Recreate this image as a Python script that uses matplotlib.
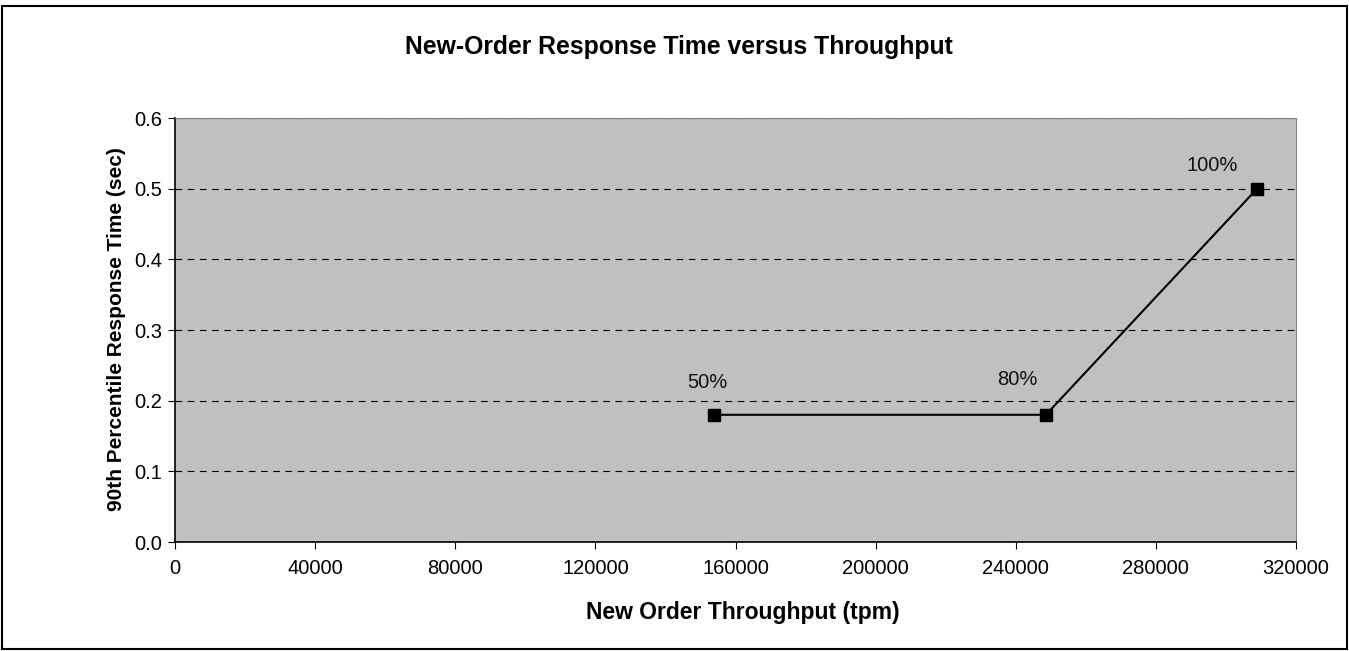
import matplotlib.pyplot as plt
from matplotlib.patches import Rectangle

plt.rcParams['font.family'] = ['Liberation Sans', 'DejaVu Sans']

# Daten
throughput = [153900, 248600, 308900]
response_time = [0.18, 0.18, 0.50]
load_labels = ["50%", "80%", "100%"]
label_offsets = [(-7, 32), (-29, 35), (-45, 23)]

W, H = 1349, 651
fig = plt.figure(figsize=(W / 100, H / 100), dpi=100)
ax = fig.add_axes([175 / W, 1 - 542 / H, 1121 / W, 424 / H])
ax.set_facecolor("#C0C0C0")

ax.plot(throughput, response_time, color="black", linewidth=1.5,
        marker="s", markersize=9, markerfacecolor="black", zorder=3)

for x, y, lab, (dx, dy) in zip(throughput, response_time, load_labels, label_offsets):
    ax.annotate(lab, (x, y), xytext=(dx, dy), textcoords="offset pixels",
                ha="center", va="center", fontsize=14.5, color="#111111")

ax.set_xlim(0, 320000)
ax.set_ylim(0, 0.6)
ax.set_xticks(range(0, 320001, 40000))
ax.set_yticks([i / 10 for i in range(7)])
ax.set_yticklabels([f"{i / 10:.1f}" for i in range(7)])
ax.tick_params(labelsize=14.5, length=5, direction="out", color="black", pad=4)
ax.tick_params(axis="x", pad=7)

ax.yaxis.grid(True, linestyle=(0, (6, 5)), color="black", linewidth=0.8)
ax.set_axisbelow(True)

for side in ["top", "right"]:
    ax.spines[side].set_color("#808080")
ax.spines["left"].set_linewidth(1.2)
ax.spines["bottom"].set_linewidth(1.2)

fig.text(743 / W, 1 - 612 / H, "New Order Throughput (tpm)",
         ha="center", va="center", fontsize=16.5, fontweight="bold")
fig.text(117 / W, 1 - 329 / H, "90th Percentile Response Time (sec)",
         ha="center", va="center", rotation=90, fontsize=15, fontweight="bold")
fig.text(679 / W, 1 - 47 / H, "New-Order Response Time versus Throughput",
         ha="center", va="center", fontsize=17.8, fontweight="bold")

# Rahmen
fig.patches.append(Rectangle((2 / W, 2 / H), 1 - 4 / W, 1 - 8 / H,
                             transform=fig.transFigure, fill=False,
                             edgecolor="black", linewidth=1.5))

fig.savefig("out.png", dpi=100)
